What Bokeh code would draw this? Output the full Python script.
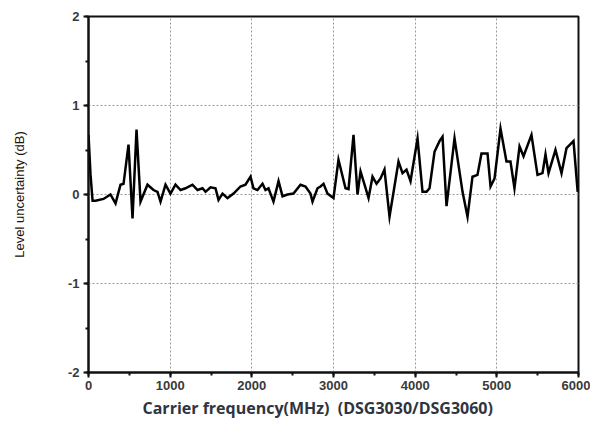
from bokeh.plotting import figure
from bokeh.models import SingleIntervalTicker, Range1d, Title, PrintfTickFormatter
from bokeh.embed import file_html
from bokeh.resources import INLINE

freq_mhz = [0, 25, 50, 86, 184, 269, 331, 392, 429, 490, 539, 588, 637, 722, 796, 845,
            882, 943, 1004, 1065, 1127, 1188, 1273, 1335, 1396, 1433, 1494, 1555, 1592,
            1641, 1702, 1776, 1861, 1922, 1984, 2020, 2069, 2131, 2167, 2204, 2265, 2327,
            2376, 2437, 2510, 2596, 2657, 2718, 2743, 2804, 2841, 2878, 2927, 3000, 3061,
            3147, 3184, 3245, 3294, 3331, 3380, 3429, 3478, 3527, 3576, 3624, 3686, 3796,
            3845, 3894, 3943, 4029, 4090, 4139, 4176, 4237, 4298, 4335, 4384, 4482, 4580,
            4641, 4702, 4763, 4812, 4886, 4923, 4972, 5045, 5118, 5167, 5216, 5278, 5327,
            5424, 5498, 5559, 5596, 5633, 5718, 5792, 5853, 5939, 5990]
uncertainty_db = [0.67, 0.22, -0.07, -0.07, -0.05, 0.0, -0.1, 0.11, 0.12, 0.56, -0.27, 0.73,
                  -0.08, 0.11, 0.05, 0.03, -0.08, 0.11, 0.01, 0.11, 0.05, 0.07, 0.11, 0.05,
                  0.07, 0.03, 0.08, 0.07, -0.06, 0.01, -0.04, 0.01, 0.09, 0.11, 0.2, 0.07,
                  0.05, 0.12, 0.05, 0.07, -0.08, 0.15, -0.02, 0.0, 0.01, 0.11, 0.09, 0.01,
                  -0.08, 0.07, 0.09, 0.12, 0.01, -0.04, 0.39, 0.07, 0.06, 0.67, 0.0, 0.26,
                  0.11, -0.04, 0.2, 0.12, 0.18, 0.28, -0.25, 0.37, 0.24, 0.28, 0.15, 0.63,
                  0.03, 0.03, 0.07, 0.48, 0.6, 0.65, -0.13, 0.63, 0.03, -0.25, 0.2, 0.22,
                  0.46, 0.46, 0.09, 0.18, 0.74, 0.37, 0.37, 0.07, 0.54, 0.43, 0.67, 0.22,
                  0.24, 0.45, 0.24, 0.5, 0.24, 0.52, 0.6, 0.03]

x_label = "Carrier frequency(MHz)\u00a0\u00a0(DSG3030/DSG3060)"
y_label = "Level uncertainty (dB)"

p = figure(width=590, height=429, output_backend="svg", toolbar_location=None,
           x_range=Range1d(0, 6000), y_range=Range1d(-2, 2),
           min_border_left=88, min_border_right=12, min_border_top=16, min_border_bottom=57)

p.line(freq_mhz, uncertainty_db, line_color="black", line_width=2.5, line_join="miter")

p.xaxis.ticker = SingleIntervalTicker(interval=1000, num_minor_ticks=2)
p.yaxis.ticker = SingleIntervalTicker(interval=1, num_minor_ticks=2)
p.yaxis.formatter = PrintfTickFormatter(format="%d")

for ax in (p.xaxis, p.yaxis):
    ax.axis_line_width = 2
    ax.axis_line_color = "#111111"
    ax.major_tick_line_width = 2
    ax.minor_tick_line_width = 2
    ax.major_tick_line_color = "#111111"
    ax.minor_tick_line_color = "#111111"
    ax.major_tick_out = 5
    ax.major_tick_in = 0
    ax.minor_tick_out = 3
    ax.minor_tick_in = 0
    ax.major_label_text_font = "Liberation Sans"
    ax.major_label_text_font_size = "13px"
    ax.major_label_text_font_style = "bold"
    ax.major_label_text_color = "#3a3a3a"

p.xaxis.major_label_standoff = 3
p.yaxis.major_label_standoff = 4

p.yaxis.axis_label = y_label
p.yaxis.axis_label_text_font = "Liberation Sans"
p.yaxis.axis_label_text_font_size = "13px"
p.yaxis.axis_label_text_font_style = "normal"
p.yaxis.axis_label_text_color = "#1e120a"
p.yaxis.axis_label_standoff = 38

p.add_layout(Title(text=x_label, align="left", offset=54, text_font="Open Sans",
                   text_font_size="16px", text_font_style="bold", text_color="#2e3440",
                   standoff=4), "below")

p.xgrid.grid_line_color = "#999999"
p.ygrid.grid_line_color = "#999999"
p.xgrid.grid_line_dash = "2 2"
p.ygrid.grid_line_dash = "2 2"
p.xgrid.grid_line_width = 1
p.ygrid.grid_line_width = 1

p.outline_line_color = "#111111"
p.outline_line_width = 2
p.outline_line_alpha = 1

open("out.html", "w").write(file_html(p, INLINE))
